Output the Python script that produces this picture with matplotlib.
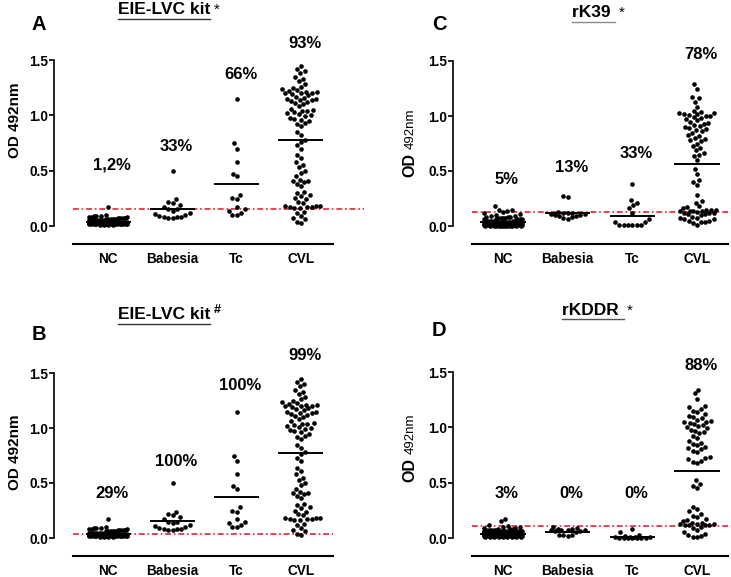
import numpy as np
import matplotlib
matplotlib.use('Agg')
import matplotlib.pyplot as plt
from matplotlib.lines import Line2D

plt.rcParams['font.family'] = ['Liberation Sans', 'DejaVu Sans']

groups = ['NC', 'Babesia', 'Tc', 'CVL']

# EIE-LVC kit: the same OD values are shown in A and B (two cut-offs)
eie_nc = [0.17,
          0.10, 0.09, 0.09, 0.09, 0.08, 0.08, 0.08, 0.07, 0.07, 0.07, 0.07,
          0.06, 0.06, 0.06, 0.06, 0.06, 0.05, 0.05, 0.05, 0.05, 0.05, 0.05, 0.05,
          0.04, 0.04, 0.04, 0.04, 0.04, 0.04, 0.04, 0.04, 0.04, 0.04, 0.04, 0.04,
          0.04, 0.04, 0.04, 0.04, 0.04, 0.04,
          0.03, 0.03, 0.03, 0.03, 0.03, 0.03, 0.03, 0.03, 0.03, 0.03, 0.03,
          0.03, 0.03, 0.03, 0.03, 0.03, 0.03, 0.03, 0.03, 0.03, 0.03, 0.03,
          0.02, 0.02, 0.02, 0.02, 0.02, 0.02, 0.02, 0.02, 0.02, 0.02, 0.02,
          0.02, 0.02, 0.02, 0.02, 0.01, 0.01, 0.01, 0.01]
eie_babesia = [0.50, 0.24, 0.22, 0.21, 0.19, 0.17, 0.15, 0.15, 0.14,
               0.12, 0.11, 0.10, 0.09, 0.08, 0.08, 0.08, 0.07, 0.07]
eie_tc = [1.15, 0.75, 0.70, 0.58, 0.47, 0.45, 0.28, 0.25, 0.24, 0.17,
          0.15, 0.14, 0.12, 0.10, 0.10]
eie_cvl = [1.45, 1.42, 1.40, 1.38, 1.35, 1.33, 1.31, 1.28, 1.26, 1.25, 1.24,
           1.23, 1.22, 1.21, 1.21, 1.20, 1.20, 1.20, 1.19,
           1.18, 1.17, 1.16, 1.15, 1.15, 1.14, 1.14, 1.13,
           1.12, 1.11, 1.10, 1.08, 1.06, 1.05, 1.04, 1.04, 1.03, 1.02, 1.01,
           1.00, 0.99, 0.98, 0.97, 0.96, 0.95, 0.93, 0.92, 0.90, 0.85, 0.82,
           0.78, 0.76, 0.73, 0.70, 0.64, 0.61, 0.58, 0.55, 0.53, 0.50,
           0.48, 0.45, 0.42, 0.41, 0.41, 0.40, 0.38, 0.36, 0.31, 0.30,
           0.28, 0.27, 0.25, 0.24, 0.22, 0.21,
           0.18, 0.18, 0.18, 0.17, 0.17, 0.17, 0.16, 0.16,
           0.13, 0.12, 0.09, 0.07, 0.06, 0.04, 0.03]
eie_means = [0.04, 0.153, 0.377, 0.777]

# rK39
rk39_nc = [0.18, 0.15, 0.15, 0.14, 0.13, 0.12, 0.11, 0.10, 0.09, 0.09,
           0.08, 0.08, 0.08, 0.07, 0.07, 0.07, 0.07,
           0.06, 0.06, 0.06, 0.06, 0.06, 0.05, 0.05, 0.05, 0.05, 0.05, 0.05,
           0.04, 0.04, 0.04, 0.04, 0.04, 0.04, 0.04, 0.04,
           0.03, 0.03, 0.03, 0.03, 0.03, 0.03, 0.03, 0.03, 0.03, 0.03,
           0.02, 0.02, 0.02, 0.02, 0.02, 0.02, 0.02, 0.02, 0.02, 0.02, 0.02, 0.02,
           0.01, 0.01, 0.01, 0.01, 0.01, 0.01, 0.01, 0.01, 0.01, 0.01, 0.01, 0.01,
           0.00, 0.00, 0.00, 0.00, 0.00, 0.00, 0.00, 0.00, 0.00, 0.00, 0.00,
           0.00, 0.00]
rk39_babesia = [0.27, 0.26, 0.13, 0.12, 0.12, 0.12, 0.11, 0.11, 0.10, 0.10,
                0.09, 0.09, 0.08, 0.07, 0.06]
rk39_tc = [0.38, 0.24, 0.21, 0.19, 0.16, 0.12, 0.06, 0.04, 0.04,
           0.01, 0.01, 0.01, 0.01, 0.01, 0.01]
rk39_cvl = [1.29, 1.25, 1.17, 1.16, 1.13, 1.08,
            1.05, 1.04, 1.03, 1.03, 1.02, 1.02, 1.01, 1.00, 1.00,
            0.99, 0.98, 0.97, 0.96, 0.95, 0.94, 0.93, 0.92,
            0.91, 0.90, 0.89, 0.88, 0.87, 0.86, 0.85,
            0.83, 0.82, 0.80, 0.79, 0.78, 0.77, 0.75, 0.73, 0.71, 0.69,
            0.66, 0.65, 0.64, 0.60, 0.52, 0.47, 0.42, 0.40, 0.37,
            0.28, 0.23, 0.21, 0.18, 0.17, 0.16, 0.15, 0.15, 0.15,
            0.14, 0.14, 0.14, 0.14, 0.13, 0.12, 0.12, 0.12, 0.11, 0.11,
            0.10, 0.08, 0.07, 0.07, 0.06, 0.06, 0.05, 0.05, 0.04, 0.04,
            0.03, 0.01]
rk39_means = [0.04, 0.115, 0.09, 0.566]

# rKDDR
rkddr_nc = [0.17, 0.15, 0.12, 0.11, 0.10, 0.10, 0.09, 0.09, 0.08, 0.08, 0.08,
            0.07, 0.07, 0.07, 0.07, 0.07,
            0.06, 0.06, 0.06, 0.06, 0.06, 0.06, 0.06, 0.06,
            0.05, 0.05, 0.05, 0.05, 0.05, 0.05, 0.05, 0.05, 0.05, 0.05,
            0.04, 0.04, 0.04, 0.04, 0.04, 0.04, 0.04, 0.04, 0.04, 0.04,
            0.04, 0.04, 0.04, 0.04,
            0.03, 0.03, 0.03, 0.03, 0.03, 0.03, 0.03, 0.03, 0.03, 0.03,
            0.03, 0.03, 0.03, 0.03,
            0.02, 0.02, 0.02, 0.02, 0.02, 0.02, 0.02, 0.02, 0.02, 0.02,
            0.02, 0.02, 0.01, 0.01, 0.01, 0.01, 0.01, 0.01, 0.01, 0.01, 0.01]
rkddr_babesia = [0.10, 0.09, 0.08, 0.08, 0.07, 0.07, 0.07, 0.07, 0.06, 0.06,
                 0.05, 0.03, 0.03, 0.03, 0.02]
rkddr_tc = [0.08, 0.05, 0.03, 0.02, 0.01, 0.01, 0.01, 0.01,
            0.00, 0.00, 0.00, 0.00, 0.00, 0.00, 0.00]
rkddr_cvl = [1.34, 1.31, 1.26, 1.19, 1.18, 1.17, 1.15, 1.14, 1.12,
             1.10, 1.09, 1.08, 1.07, 1.06, 1.05, 1.05, 1.04, 1.03, 1.02, 1.01,
             1.00, 0.99, 0.98, 0.97, 0.96, 0.95, 0.92, 0.90, 0.88, 0.86, 0.85,
             0.84, 0.82, 0.81, 0.80, 0.79, 0.78, 0.73, 0.72, 0.71, 0.70, 0.69,
             0.68, 0.52, 0.49, 0.47, 0.45, 0.28, 0.26, 0.24, 0.22, 0.20, 0.19,
             0.17, 0.16, 0.15, 0.14, 0.14, 0.13, 0.13, 0.13, 0.12, 0.12, 0.12,
             0.12, 0.10, 0.09, 0.07, 0.05, 0.04, 0.03, 0.02, 0.01, 0.01]
rkddr_means = [0.04, 0.057, 0.01, 0.605]

cutoffs = {'A': 0.155, 'B': 0.04, 'C': 0.13, 'D': 0.11}
pct_A = ['1,2%', '33%', '66%', '93%']
pct_B = ['29%', '100%', '100%', '99%']
pct_C = ['5%', '13%', '33%', '78%']
pct_D = ['3%', '0%', '0%', '88%']

W, H = 731, 577
fig = plt.figure(figsize=(W / 100, H / 100), dpi=100)
fig.patch.set_facecolor('white')


def px_rect(left, top, right, bottom):
    return [left / W, 1 - bottom / H, (right - left) / W, (bottom - top) / H]


def swarm(vals, sx, sy, dx=4.4, dy=6.5, maxw=19.0):
    # bee-swarm in pixel units (elliptic spacing, width capped like GraphPad)
    vals = np.asarray(vals, dtype=float)
    xs = np.zeros(len(vals))
    placed = []
    for i in np.argsort(vals, kind='stable'):
        y = vals[i] * sy
        near = [(px, py) for px, py in placed if abs(py - y) < dy]
        cands = [0.0]
        for px, py in near:
            w = dx * np.sqrt(1 - ((py - y) / dy) ** 2)
            cands += [px - w, px + w]
        cands.sort(key=lambda c: (abs(c), c))
        pos = None
        for c in cands:
            if abs(c) > maxw:
                break
            if all(((c - px) / dx) ** 2 + ((py - y) / dy) ** 2 >= 1 - 1e-6
                   for px, py in near):
                pos = c
                break
        if pos is None:
            grid = np.linspace(-maxw, maxw, 17)
            score = [min(((g - px) / dx) ** 2 + ((py - y) / dy) ** 2 for px, py in near)
                     for g in grid]
            pos = grid[int(np.argmax(score))]
        placed.append((pos, y))
        xs[i] = pos / sx
    return xs


def panel(box, xlim, series, means, cutoff, cut_xmax, pct, pct_y):
    ax = fig.add_axes(px_rect(*box))
    sx = (box[2] - box[0]) / (xlim[1] - xlim[0])
    sy = (box[3] - box[1]) / 1.5
    for i, vals in enumerate(series):
        xs = swarm(vals, sx, sy)
        ax.scatter(i + xs, vals, s=11, c='black', linewidths=0, zorder=3, clip_on=False)
        ax.plot([i - 0.35, i + 0.35], [means[i], means[i]], color='black', lw=1.4,
                zorder=4, solid_capstyle='butt')
        ax.text(i + 0.06, pct_y[i], pct[i], ha='center', va='center',
                fontsize=12, fontweight='bold')
    ax.axhline(cutoff, 0, cut_xmax, color='#e0242c', lw=1.2,
               ls=(0, (3.5, 1.7, 1.0, 1.7)), clip_on=False, zorder=2)
    ax.set_xlim(*xlim)
    ax.set_ylim(0, 1.5)
    for s in ['top', 'right']:
        ax.spines[s].set_visible(False)
    ax.spines['left'].set_position(('outward', 13.5))
    ax.spines['bottom'].set_position(('outward', 13))
    ax.spines['left'].set_linewidth(1.2)
    ax.spines['bottom'].set_linewidth(1.5)
    ax.set_yticks([0, 0.5, 1.0, 1.5])
    ax.set_yticklabels(['0.0', '0.5', '1.0', '1.5'], fontweight='bold')
    ax.set_xticks(range(len(groups)))
    ax.set_xticklabels(groups, fontweight='bold')
    ax.tick_params(axis='y', length=3.5, width=1.2, pad=1, labelsize=9.8)
    ax.tick_params(axis='x', length=0, pad=6, labelsize=9.8)
    ax.patch.set_alpha(0)
    return ax


panel((73, 60, 333, 226), (-0.55, 3.5),
      [eie_nc, eie_babesia, eie_tc, eie_cvl], eie_means, cutoffs['A'], 1.12,
      pct_A, [0.55, 0.715, 1.37, 1.65])
panel((73, 373, 333, 538), (-0.55, 3.5),
      [eie_nc, eie_babesia, eie_tc, eie_cvl], eie_means, cutoffs['B'], 1.0,
      pct_B, [0.40, 0.70, 1.39, 1.66])
panel((472, 61, 728, 226), (-0.48, 3.48),
      [rk39_nc, rk39_babesia, rk39_tc, rk39_cvl], rk39_means, cutoffs['C'], 1.01,
      pct_C, [0.42, 0.535, 0.655, 1.56])
panel((472, 372, 728, 538), (-0.48, 3.48),
      [rkddr_nc, rkddr_babesia, rkddr_tc, rkddr_cvl], rkddr_means, cutoffs['D'], 1.01,
      pct_D, [0.40, 0.40, 0.40, 1.555])


def ftext(x, y, s, **kw):
    return fig.text(x / W, 1 - y / H, s, **kw)


# panel letters
for letter, x, y in [('A', 39, 25), ('C', 439, 24), ('B', 39, 334), ('D', 439, 331)]:
    ftext(x, y, letter, ha='center', va='center', fontsize=14.5, fontweight='bold')

# y labels
ftext(15, 120, 'OD 492nm', rotation=90, ha='center', va='center',
      fontsize=11, fontweight='bold')
ftext(15, 452, 'OD 492nm', rotation=90, ha='center', va='center',
      fontsize=11, fontweight='bold')
for yb in [177, 482]:
    ftext(410, yb, 'OD', rotation=90, ha='center', va='bottom',
          fontsize=11.5, fontweight='bold')
    ftext(411, yb - 28, '492nm', rotation=90, ha='center', va='bottom', fontsize=9.5)

# titles with underline
renderer = fig.canvas.get_renderer()
titles = [('EIE-LVC kit', 118, 14, '*', 0, '#333333'),
          ('EIE-LVC kit', 118, 319, '#', -6, '#333333'),
          ('rK39 ', 572, 17, '*', 0, '#8a8a8a'),
          ('rKDDR ', 562, 315, '*', 0, '#555555')]
for main, x, y, mark, dy, ucol in titles:
    t = ftext(x, y, main, ha='left', va='baseline', fontsize=12.5, fontweight='bold')
    bb = t.get_window_extent(renderer)
    x1 = bb.x1 / W
    yl = (bb.y0 - 1.5) / H
    fig.add_artist(Line2D([bb.x0 / W, x1], [yl, yl], color=ucol, lw=1.0,
                          transform=fig.transFigure))
    fs = 9 if mark == '#' else 11
    fig.text(x1 + 3 / W, 1 - (y + dy) / H, mark, ha='left', va='baseline',
             fontsize=fs, fontweight='bold' if mark == '#' else 'normal')

fig.savefig('out.png', dpi=100, facecolor='white')
